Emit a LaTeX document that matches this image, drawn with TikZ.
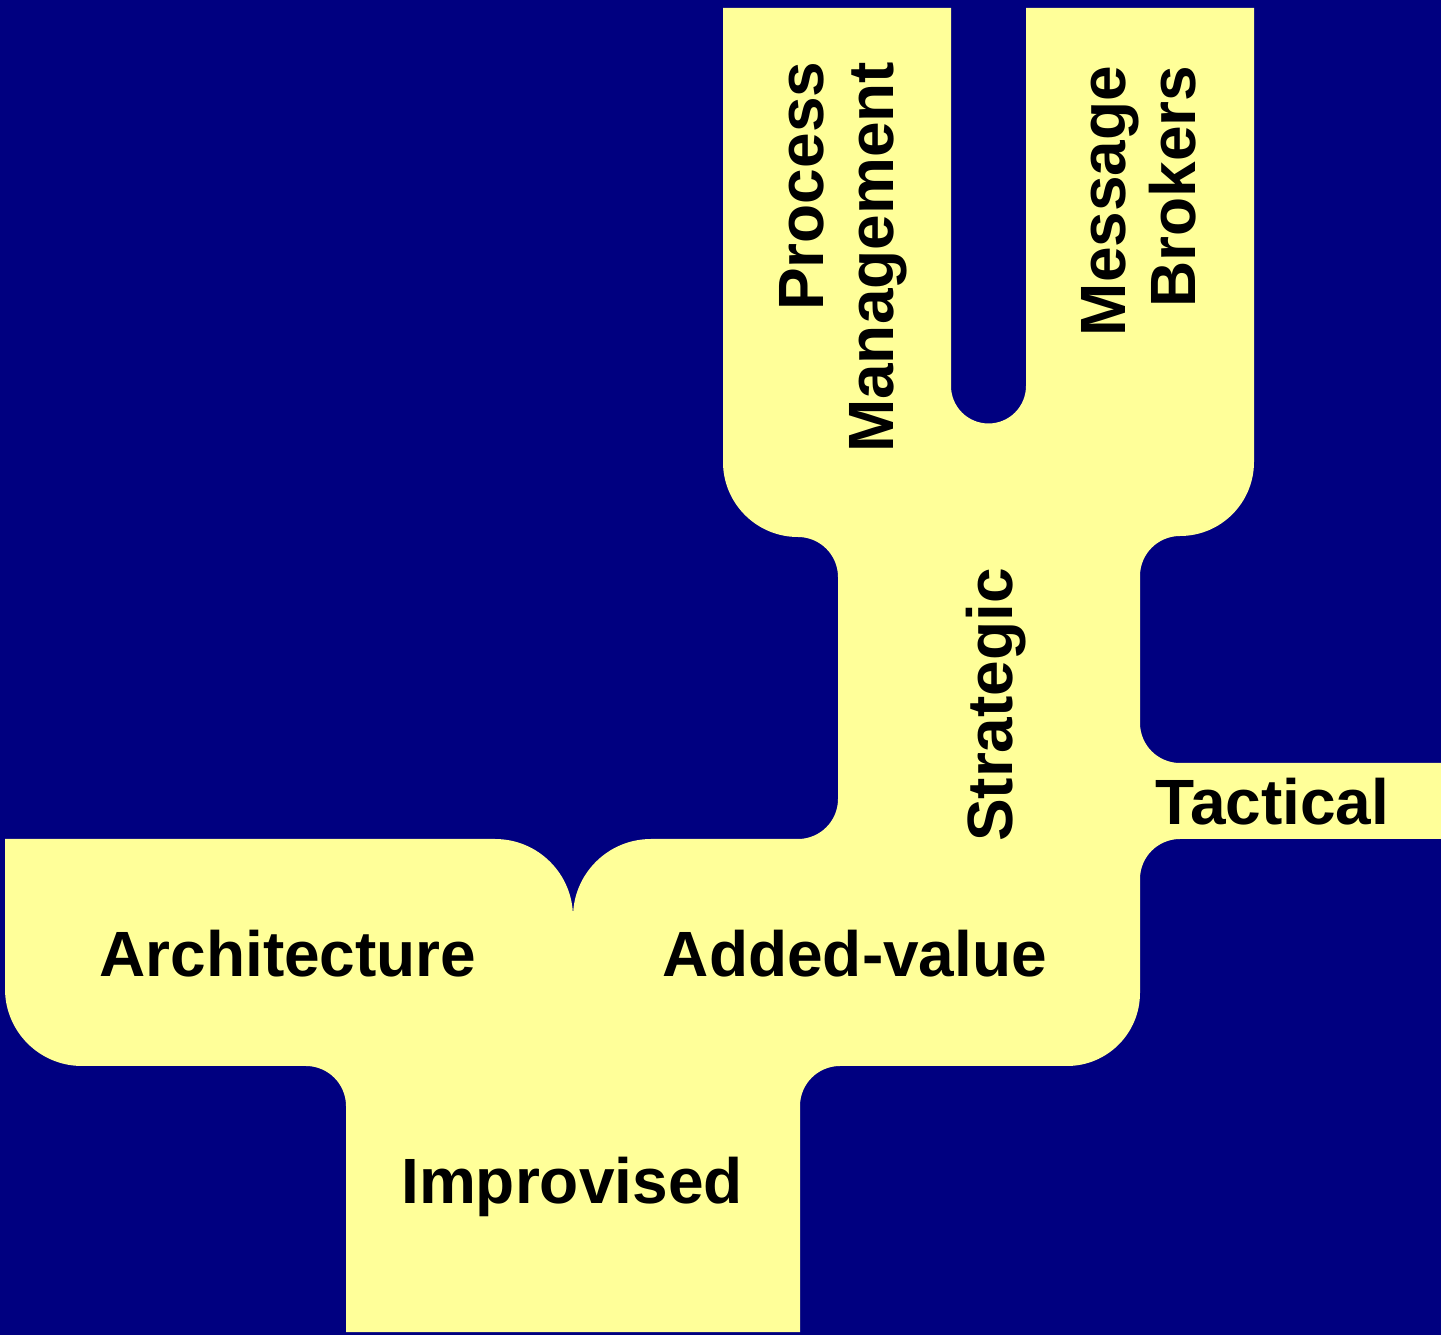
\documentclass[tikz,border=0pt]{standalone}
\usepackage{fontspec}
\setmainfont{Liberation Sans}
\definecolor{deepnavy}{RGB}{0,0,128}
\definecolor{paleyellow}{RGB}{255,255,153}
\begin{document}
\begin{tikzpicture}[x=0.01cm, y=0.01cm,
  lbl/.style={inner sep=0pt, font=\bfseries\fontsize{18.2}{19.9}\selectfont},
  vlbl/.style={lbl, rotate=90}]
  \fill[deepnavy] (0,0) rectangle (1441,1335);
  \fill[paleyellow] (5,496) -- (495,496)
    arc[start angle=90, end angle=0, radius=78]
    arc[start angle=180, end angle=90, radius=78]
    -- (798,496) arc[start angle=270, end angle=360, radius=40]
    -- (838,758) arc[start angle=0, end angle=90, radius=40]
    arc[start angle=270, end angle=180, radius=75]
    -- (723,1327) -- (951,1327) -- (951,949)
    arc[start angle=180, end angle=360, radius=37.5]
    -- (1026,1327) -- (1254,1327) -- (1254,873)
    arc[start angle=0, end angle=-90, radius=74]
    arc[start angle=90, end angle=180, radius=40]
    -- (1140,612) arc[start angle=180, end angle=270, radius=40]
    -- (1441,572) -- (1441,496) -- (1180,496)
    arc[start angle=90, end angle=180, radius=40]
    -- (1140,342) arc[start angle=0, end angle=-90, radius=73]
    -- (840,269) arc[start angle=90, end angle=180, radius=40]
    -- (800,3) -- (346,3) -- (346,229)
    arc[start angle=0, end angle=90, radius=40]
    -- (82,269) arc[start angle=270, end angle=180, radius=77]
    -- cycle;
  \foreach \nm/\x/\y/\txt in {arch/288/359/Architecture, addval/855/359/Added-value,
    improv/572/132/Improvised} {
    \node[lbl, anchor=base] (\nm) at (\x,\y) {\txt};
  }
  \node[lbl, anchor=base west] (tact) at (1155,510) {Tactical};
  \node[vlbl, anchor=base] (strat) at (1012,630) {Strategic};
  \node[vlbl, anchor=east, align=right] (procmgmt) at (843,1274) {Process\\Management};
  \node[vlbl, anchor=east, align=right] (msgbrk) at (1139,1270) {Message\\Brokers};
\end{tikzpicture}
\end{document}
